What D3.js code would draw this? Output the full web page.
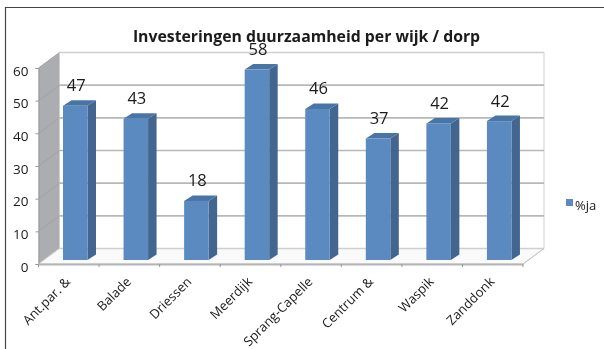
<!DOCTYPE html>
<html><head><meta charset="utf-8">
<script src="https://cdn.jsdelivr.net/npm/d3@7"></script>
<style>html,body{margin:0;padding:0;background:#fff}svg{display:block}
text{font-family:"Open Sans",sans-serif;fill:#1a1a1a}</style></head>
<body><svg id="c" width="604" height="349"></svg>
<script>
const categories = ["Ant.par. &","Balade","Driessen","Meerdijk","Sprang-Capelle","Centrum &","Waspik","Zanddonk"];
const values = [47,43,18,58,46,37,41.6,42.3];
const yTicks = [0,10,20,30,40,50,60];
const seriesName = "%ja";
const titleText = "Investeringen duurzaamheid per wijk / dorp";

const svg = d3.select("#c");
const defs = svg.append("defs");
defs.append("filter").attr("id","soft").append("feGaussianBlur").attr("stdDeviation",0.45);
const root = svg.append("g").attr("filter","url(#soft)");

const x = d3.scaleBand().domain(categories).range([38.5,523]);
const y = d3.scaleLinear().domain([0,60]).range([264,68]);
const yBar = d3.scaleLinear().domain([0,60]).range([260,63]);
const dx = 21, dy = -15.5;

// frame
root.append("path").attr("d","M5.5,349V7.5H604").attr("fill","none").attr("stroke","#444").attr("stroke-width",1.2);

// side wall and floor
root.append("path").attr("fill","#abadb0")
  .attr("d",`M${x.range()[0]},${y(60)}l${dx},${dy}V${y(0)+dy}l${-dx},${-dy}Z`);
root.append("path").attr("fill","#fafafa").attr("stroke","#d0d0d0")
  .attr("d",`M${x.range()[0]},${y(0)}l${dx},${dy}H${x.range()[1]+dx}l${-dx},${-dy}Z`);
// back wall
root.append("path").attr("fill","#fff").attr("stroke","#cfcfcf")
  .attr("d",`M${x.range()[0]+dx},${y(0)+dy}V${y(60)+dy}H${x.range()[1]+dx}V${y(0)+dy}`);

// gridlines
root.selectAll("path.grid").data(yTicks).join("path").attr("class","grid")
  .attr("fill","none").attr("stroke",d=>d===0||d===60?"#cfcfcf":"#b8b8b8").attr("stroke-width",1.7)
  .attr("d",d=>`M${x.range()[0]+dx},${y(d)+dy}H${x.range()[1]+dx}`);
root.selectAll("path.gridside").data(yTicks.filter(d=>d>0)).join("path").attr("class","gridside")
  .attr("fill","none").attr("stroke","#a0a3a6").attr("stroke-width",1)
  .attr("d",d=>`M${x.range()[0]},${y(d)}l${dx},${dy}`);

// axes
const gy = root.append("g").attr("transform",`translate(${x.range()[0]},0)`)
  .call(d3.axisLeft(y).tickValues(yTicks).tickSize(3).tickPadding(7));
gy.select(".domain").attr("stroke","#9a9a9a");
gy.selectAll("line").attr("stroke","#9a9a9a");
gy.selectAll("text").attr("font-size",13.5).attr("fill","#1a1a1a").attr("font-family","'Open Sans',sans-serif").attr("dy","0.52em");

const gx = root.append("g").attr("transform",`translate(0,${y(0)})`)
  .call(d3.axisBottom(x).tickValues([]).tickSizeOuter(0));
gx.select(".domain").attr("stroke","#b5b5b5").attr("stroke-width",2);
root.append("g").selectAll("line").data(categories).join("line")
  .attr("x1",d=>x(d)).attr("x2",d=>x(d)).attr("y1",y(0)).attr("y2",y(0)+3).attr("stroke","#999");
root.append("line").attr("x1",x.range()[1]).attr("x2",x.range()[1]).attr("y1",y(0)).attr("y2",y(0)+3).attr("stroke","#999");
root.append("path").attr("fill","none").attr("stroke","#c4c4c4")
  .attr("d",`M${x.range()[1]},${y(0)}l${dx},${dy}`);

// bars
const bw = 24.5, off = 24.5, bdx = 8.5, bdy = -5.5;
const bars = root.append("g").selectAll("g").data(categories.map((c,i)=>({c,v:values[i]}))).join("g")
  .attr("transform",d=>`translate(${x(d.c)+off},0)`);
bars.append("path").attr("fill","#43668f")
  .attr("d",d=>`M${bw},${yBar(d.v)}l${bdx},${bdy}V${yBar(0)+bdy}l${-bdx},${-bdy}Z`);
bars.append("path").attr("fill","#4a74a6")
  .attr("d",d=>`M0,${yBar(d.v)}l${bdx},${bdy}h${bw}l${-bdx},${-bdy}Z`);
bars.append("rect").attr("fill","#5a8ac0").attr("x",0).attr("width",bw)
  .attr("y",d=>yBar(d.v)).attr("height",d=>yBar(0)-yBar(d.v));
bars.append("text").attr("x",bw/2+1).attr("y",d=>yBar(d.v)-14.5)
  .attr("text-anchor","middle").attr("font-size",16.5).text(d=>d3.format(".0f")(d.v));

// category labels
root.append("g").selectAll("text").data(categories).join("text")
  .attr("text-anchor","end").attr("font-size",13)
  .attr("transform",d=>`translate(${x(d)+x.bandwidth()/2+2.5},${y(0)+18.5}) rotate(-45)`)
  .text(d=>d);

// title
root.append("text").attr("x",306.5).attr("y",42).attr("text-anchor","middle")
  .attr("font-size",15.8).attr("font-weight",700).attr("fill","#000").text(titleText);

// legend
root.append("rect").attr("x",566).attr("y",199).attr("width",7).attr("height",7).attr("fill","#5a8ac0");
root.append("text").attr("x",575).attr("y",210).attr("font-size",13).text(seriesName);
</script></body></html>
